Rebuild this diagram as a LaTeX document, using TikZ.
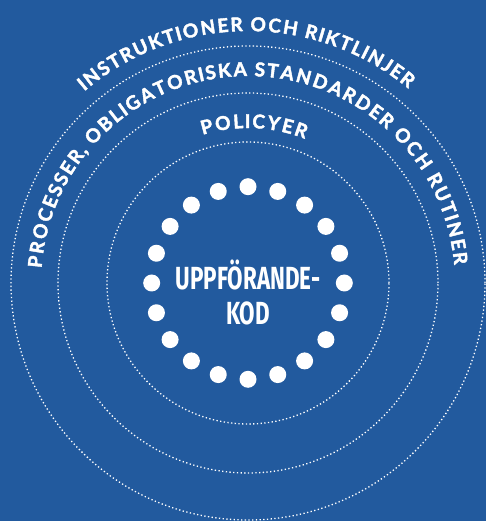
\documentclass[tikz,border=0pt]{standalone}
\usepackage{fontspec}
\setsansfont{Lato}
\newfontfamily\arcfont{Lato}[BoldFeatures={FakeBold=2.2}]
\newfontfamily\kodfont{Fira Sans}
\usetikzlibrary{decorations.text}
\definecolor{codeblue}{HTML}{225A9E}

\begin{document}
\begin{tikzpicture}[x=1pt, y=1pt,
    ring/.style={draw=white, line width=1.3pt, dash pattern=on 1.3pt off 2.4pt},
    pearl/.style={circle, fill=white, minimum size=17pt, inner sep=0pt},
    arctext/.style={decorate, decoration={text effects along path, text={#1},
                    text effects/.cd, text along path, fit text to path,
                    characters={text=white, anchor=base, inner sep=0pt,
                                font=\arcfont\bfseries\fontsize{19}{19}\selectfont}}},
    kod/.style={text=white, inner sep=0pt, anchor=base,
                font=\kodfont\bfseries\fontsize{32}{32}\selectfont},
  ]

  % Background
  \useasboundingbox (-248,-238) rectangle (238,283);
  \fill[codeblue] (-248,-238) rectangle (238,283);
  \coordinate (c) at (0,0);

  % Rings
  \draw[ring] (c) circle[radius=141];
  \draw[ring] (c) circle[radius=190];
  \draw[ring] (c) circle[radius=237];

  % Ring of dots
  \foreach \i in {0,...,19}
    \node[pearl] (pearl\i) at (90-\i*18:96.3) {};

  % Code of conduct
  \node[kod] (kodtop) at (0,-7) {\scalebox{0.7}[1]{UPPFÖRANDE-}};
  \node[kod] (kodbot) at (0,-42) {\scalebox{0.7}[1]{KOD}};

  % Arc labels
  \path[arctext={POLICYER}]
    (107:155) arc[start angle=107, end angle=68.5, radius=155];
  \path[arctext={PROCESSER, OBLIGATORISKA STANDARDER OCH RUTINER}]
    (175.9:207) arc[start angle=175.9, end angle=5, radius=207];
  \path[arctext={INSTRUKTIONER OCH RIKTLINJER}]
    (130.5:252) arc[start angle=130.5, end angle=50.5, radius=252];

\end{tikzpicture}
\end{document}
